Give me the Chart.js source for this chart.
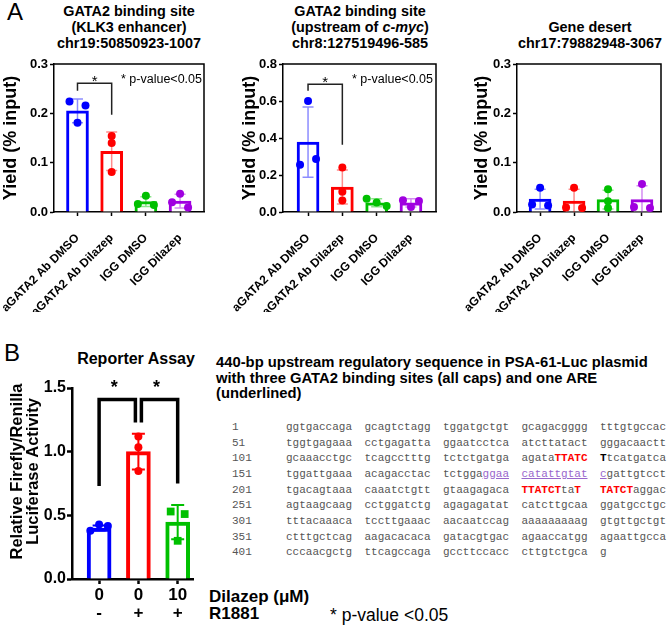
<!DOCTYPE html>
<html><head><meta charset="utf-8">
<script src="https://cdn.jsdelivr.net/npm/chart.js@4.4.1/dist/chart.umd.min.js"></script>
<style>
html,body{margin:0;padding:0;background:#fff}
body{width:667px;height:626px;position:relative;overflow:hidden;font-family:"Liberation Sans",Arial,sans-serif;color:#000}
.t{position:absolute;white-space:nowrap}
.title{font-weight:bold;font-size:14.4px;line-height:16px;text-align:center;width:220px}
canvas{position:absolute}
.seq{position:absolute;font-family:"Liberation Mono","Courier New",monospace;font-size:11px;line-height:14px;color:#555;white-space:pre}
.r{color:#f00;font-weight:bold}
.k{color:#000;font-weight:bold}
.u{color:#9966cc;text-decoration:underline}
</style></head><body>
<div class="t" style="left:7px;top:0;font-size:24px;line-height:24px">A</div>
<div class="t title" style="left:19px;top:3px">GATA2 binding site<br>(KLK3 enhancer)<br>chr19:50850923-1007</div>
<div class="t title" style="left:250px;top:3px">GATA2 binding site<br>(upstream of <i>c-myc</i>)<br>chr8:127519496-585</div>
<div class="t title" style="left:480px;top:19px">Gene desert<br>chr17:79882948-3067</div>
<canvas id="cKlk3" width="208" height="256" style="left:0;top:56px"></canvas>
<canvas id="cMyc" width="221" height="256" style="left:219px;top:56px"></canvas>
<canvas id="cDesert" width="214" height="256" style="left:451px;top:56px"></canvas>
<div class="t" style="left:4px;top:341px;font-size:24px;line-height:24px">B</div>
<div class="t" style="left:36px;top:349px;width:200px;text-align:center;font-weight:bold;font-size:16px;line-height:20px">Reporter Assay</div>
<canvas id="cReporter" width="200" height="255" style="left:0;top:370px"></canvas>
<div class="t" style="left:209px;top:587px;font-weight:bold;font-size:17px;line-height:20px">Dilazep (μM)</div>
<div class="t" style="left:209px;top:604px;font-weight:bold;font-size:17px;line-height:20px">R1881</div>
<div class="t" style="left:330px;top:605px;font-size:17.5px;line-height:20px">* p-value &lt;0.05</div>
<div class="t" style="left:216px;top:355px;font-weight:bold;font-size:14.8px;line-height:15.5px">440-bp upstream regulatory sequence in PSA-61-Luc plasmid<br>with three GATA2 binding sites (all caps) and one ARE<br>(underlined)</div>
<div id="seqBox"></div>
<script>
// ---------- DATA ----------
const chipCategories = ['aGATA2 Ab DMSO', 'aGATA2 Ab Dilazep', 'IGG DMSO', 'IGG Dilazep'];
const chipColors = ['#0000FF', '#FF0000', '#00C000', '#A000E0'];

const klk3YTicks = [0.0, 0.1, 0.2, 0.3];
const klk3Means = [0.205, 0.123, 0.021, 0.022];
const klk3SD = [0.024, 0.039, 0.010, 0.014];
const klk3Points = [[0.224, 0.216, 0.181], [0.154, 0.140, 0.081], [0.033, 0.016, 0.014], [0.037, 0.020, 0.009]];
const klk3SigPair = [0, 1];
const klk3SigLevels = [0.261, 0.246, 0.197];

const mycYTicks = [0.0, 0.2, 0.4, 0.6, 0.8];
const mycMeans = [0.378, 0.135, 0.050, 0.049];
const mycSD = [0.190, 0.092, 0.021, 0.022];
const mycPoints = [[0.600, 0.256, 0.286], [0.240, 0.110, 0.062], [0.072, 0.052, 0.033], [0.064, 0.060, 0.027]];
const mycSigPair = [0, 1];
const mycSigLevels = [0.691, 0.655, 0.364];

const desertYTicks = [0.0, 0.1, 0.2, 0.3];
const desertMeans = [0.026, 0.022, 0.025, 0.025];
const desertSD = [0.020, 0.024, 0.019, 0.028];
const desertPoints = [[0.049, 0.015, 0.013], [0.049, 0.009, 0.008], [0.046, 0.022, 0.008], [0.057, 0.010, 0.008]];

const reporterDilazep = ['0', '0', '10'];
const reporterR1881 = ['-', '+', '+'];
const reporterColors = ['#0000FF', '#FF0000', '#00C000'];
const reporterMarkers = ['circle', 'circle', 'rect'];
const reporterYTicks = [0.0, 0.5, 1.0, 1.5];
const reporterMeans = [0.400, 1.000, 0.447];
const reporterSD = [0.020, 0.140, 0.134];
const reporterPoints = [[0.378, 0.428, 0.416], [1.120, 1.035, 0.848], [0.530, 0.510, 0.300]];
const reporterSigPairs = [[0, 1], [1, 2]];
const reporterSigTops = [1.41, 1.41];
const reporterSigDrops = [[0.73, 1.23], [1.23, 0.75]];
const reporterYTitle = ['Relative Firefly/Renilla', 'Luciferase Activity'];

const seqStarts = ['1', '51', '101', '151', '201', '251', '301', '351', '401'];
const seqRows = [
  ['ggtgaccaga', 'gcagtctagg', 'tggatgctgt', 'gcagacgggg', 'tttgtgccac'],
  ['tggtgagaaa', 'cctgagatta', 'ggaatcctca', 'atcttatact', 'gggacaactt'],
  ['gcaaacctgc', 'tcagcctttg', 'tctctgatga', 'agata<span class="r">TTATC</span>', '<span class="k">T</span>tcatgatca'],
  ['tggattgaaa', 'acagacctac', 'tctgga<span class="u">ggaa</span>', '<span class="u">catattgtat</span>', '<span class="u">c</span>gattgtcct'],
  ['tgacagtaaa', 'caaatctgtt', 'gtaagagaca', '<span class="r">TTATCT</span>ta<span class="r">T</span>', '<span class="r">TATCT</span>aggac'],
  ['agtaagcaag', 'cctggatctg', 'agagagatat', 'catcttgcaa', 'ggatgcctgc'],
  ['tttacaaaca', 'tccttgaaac', 'aacaatccag', 'aaaaaaaaag', 'gtgttgctgt'],
  ['ctttgctcag', 'aagacacaca', 'gatacgtgac', 'agaaccatgg', 'agaattgcca'],
  ['cccaacgctg', 'ttcagccaga', 'gccttccacc', 'cttgtctgca', 'g']
];

// ---------- SEQUENCE TEXT ----------
(function () {
  const box = document.getElementById('seqBox');
  let html = '';
  seqRows.forEach((row, r) => {
    const top = 420 + r * 15.65;
    html += `<div class="seq" style="left:232px;top:${top}px">${seqStarts[r]}</div>`;
    row.forEach((col, c) => {
      html += `<div class="seq" style="left:${286 + c * 78.5}px;top:${top}px">${col}</div>`;
    });
  });
  box.innerHTML = html;
})();

// ---------- CHARTS ----------
const FONT = '"Liberation Sans", Arial, sans-serif';
Chart.defaults.font.family = FONT;
Chart.defaults.color = '#000';

function rgba(hex, a) {
  const n = parseInt(hex.slice(1), 16);
  return `rgba(${(n >> 16) & 255},${(n >> 8) & 255},${n & 255},${a})`;
}

function swarmPlugin(spread, thresh) {
  return {
    id: 'swarm',
    afterDatasetsUpdate(chart) {
      const meta = chart.getDatasetMeta(0);
      const data = chart.data.datasets[0].data;
      const groups = new Map();
      meta.data.forEach((el, j) => {
        const k = data[j].x;
        if (!groups.has(k)) groups.set(k, []);
        groups.get(k).push({ el, j });
      });
      groups.forEach(list => {
        const sorted = list.slice().sort((a, b) => a.el.y - b.el.y);
        const clusters = [];
        let cur = [sorted[0]];
        for (let i = 1; i < sorted.length; i++) {
          if (sorted[i].el.y - sorted[i - 1].el.y < thresh) cur.push(sorted[i]);
          else { clusters.push(cur); cur = [sorted[i]]; }
        }
        clusters.push(cur);
        clusters.forEach(c => {
          c.sort((a, b) => a.j - b.j);
          const n = c.length;
          const step = n === 2 ? spread * 2 : spread * 1.25;
          c.forEach((p, i) => { p.el.x += (i - (n - 1) / 2) * step; });
        });
      });
    }
  };
}

function errorBarPlugin(means, sds, colors, lw, capHalf) {
  return {
    id: 'errbars',
    afterDatasetDraw(chart, args) {
      if (args.index !== 1) return;
      const { ctx, chartArea: a, scales: { x, y } } = chart;
      ctx.save();
      ctx.beginPath();
      ctx.rect(a.left, a.top - 10, a.right - a.left, a.bottom - a.top + 10);
      ctx.clip();
      ctx.lineWidth = lw;
      means.forEach((m, i) => {
        const px = x.getPixelForValue(i);
        const yt = y.getPixelForValue(m + sds[i]);
        const yb = y.getPixelForValue(m - sds[i]);
        ctx.strokeStyle = colors[i];
        ctx.beginPath();
        ctx.moveTo(px, yt); ctx.lineTo(px, yb);
        ctx.moveTo(px - capHalf, yt); ctx.lineTo(px + capHalf, yt);
        ctx.moveTo(px - capHalf, yb); ctx.lineTo(px + capHalf, yb);
        ctx.stroke();
      });
      ctx.restore();
    }
  };
}

function bracketPlugin(pairs, tops, drops, lw, color, starFont, starLift, inset) {
  return {
    id: 'brackets',
    afterDraw(chart) {
      const { ctx, scales: { x, y } } = chart;
      const counts = {};
      pairs.forEach(p => p.forEach(c => { counts[c] = (counts[c] || 0) + 1; }));
      ctx.save();
      ctx.strokeStyle = color;
      ctx.fillStyle = '#000';
      ctx.lineWidth = lw;
      ctx.lineJoin = 'miter';
      pairs.forEach((p, k) => {
        const x0 = x.getPixelForValue(p[0]) + (counts[p[0]] > 1 ? inset : 0);
        const x1 = x.getPixelForValue(p[1]) - (counts[p[1]] > 1 ? inset : 0);
        const yt = y.getPixelForValue(tops[k]);
        ctx.beginPath();
        ctx.moveTo(x0, y.getPixelForValue(drops[k][0]));
        ctx.lineTo(x0, yt);
        ctx.lineTo(x1, yt);
        ctx.lineTo(x1, y.getPixelForValue(drops[k][1]));
        ctx.stroke();
        ctx.font = starFont;
        ctx.textAlign = 'center';
        ctx.textBaseline = 'alphabetic';
        ctx.fillText('*', (x0 + x1) / 2 - inset, yt + starLift);
      });
      ctx.restore();
    }
  };
}

const boxPlugin = {
  id: 'box',
  afterDraw(chart) {
    const { ctx, chartArea: a } = chart;
    ctx.save();
    ctx.strokeStyle = '#000';
    ctx.lineWidth = 1.5;
    ctx.beginPath();
    ctx.moveTo(a.left, a.top);
    ctx.lineTo(a.right, a.top);
    ctx.lineTo(a.right, a.bottom);
    ctx.stroke();
    ctx.restore();
  }
};

function pValueText(left) {
  return {
    id: 'ptext',
    afterDraw(chart) {
      const { ctx, chartArea: a } = chart;
      ctx.save();
      ctx.font = '12.5px ' + FONT;
      ctx.fillStyle = '#000';
      ctx.textBaseline = 'middle';
      ctx.fillText('* p-value<0.05', a.left + left, a.top + 16);
      ctx.restore();
    }
  };
}

// Two-line rotated axis title for panel B, placed relative to the plot area
function sideTitlePlugin(lines, font, firstX, lineStep, centerShift) {
  return {
    id: 'sidetitle',
    afterDraw(chart) {
      const { ctx, chartArea: a } = chart;
      ctx.save();
      ctx.font = font;
      ctx.fillStyle = '#000';
      ctx.textAlign = 'center';
      ctx.textBaseline = 'middle';
      const cy = (a.top + a.bottom) / 2 + centerShift;
      lines.forEach((ln, i) => {
        ctx.save();
        ctx.translate(firstX + i * lineStep, cy);
        ctx.rotate(-Math.PI / 2);
        ctx.fillText(ln, 0, 0);
        ctx.restore();
      });
      ctx.restore();
    }
  };
}

function buildChart(id, c) {
  const barData = c.means.map((m, i) => ({ x: i, y: m }));
  const ptData = [];
  c.points.forEach((arr, i) => arr.forEach(v => ptData.push({ x: i, y: v })));
  const marker = ctx => (ctx.raw && c.markers) ? c.markers[ctx.raw.x] : 'circle';
  const pcol = ctx => ctx.raw ? c.colors[ctx.raw.x] : c.colors[0];
  return new Chart(document.getElementById(id), {
    type: 'bar',
    data: {
      datasets: [
        {
          type: 'scatter', data: ptData, order: 0,
          pointStyle: marker,
          pointRadius: ctx => marker(ctx) === 'rect' ? c.rectRadius : c.pointRadius,
          pointBackgroundColor: pcol, pointBorderColor: pcol, pointBorderWidth: 0,
          backgroundColor: pcol, borderColor: pcol
        },
        {
          type: 'bar', data: barData, order: 1,
          backgroundColor: '#FFFFFF', borderColor: c.colors,
          borderWidth: c.barBorder, barThickness: c.barThickness, borderSkipped: 'start'
        }
      ]
    },
    options: {
      responsive: false, animation: false, devicePixelRatio: 1,
      layout: { padding: { top: c.padTop, right: c.padRight, left: c.padLeft || 0, bottom: 0 } },
      plugins: { legend: { display: false }, tooltip: { enabled: false } },
      scales: {
        x: {
          type: 'linear', min: c.xMin, max: c.xMax, offset: false,
          afterFit: s => { s.height = c.xHeight; s.paddingLeft = 0; s.paddingRight = 0; },
          afterBuildTicks: s => { s.ticks = c.xLabels.map((_, i) => ({ value: i })); },
          ticks: {
            autoSkip: false, maxRotation: c.rot, minRotation: c.rot, padding: c.xPad,
            labelOffset: c.xLabelOffset || 0,
            font: c.xFont, color: '#000',
            callback: v => c.xLabels[v]
          },
          grid: { display: true, drawOnChartArea: false, drawTicks: true, tickLength: c.tickLen, tickWidth: c.axisW, tickColor: '#000', offset: false },
          border: { display: true, color: '#000', width: c.axisW }
        },
        y: {
          type: 'linear', min: 0, max: c.yTicks[c.yTicks.length - 1],
          afterFit: s => { s.width = c.yWidth; s.paddingTop = 0; s.paddingBottom = 0; },
          afterBuildTicks: s => { s.ticks = c.yTicks.map(v => ({ value: v })); },
          ticks: { padding: c.yPad, font: c.yFont, color: '#000', callback: v => Number(v).toFixed(1) },
          grid: { display: true, drawOnChartArea: false, drawTicks: true, tickLength: c.tickLen, tickWidth: c.axisW, tickColor: '#000' },
          border: { display: true, color: '#000', width: c.axisW },
          title: { display: !!c.yTitle, text: c.yTitle || '', font: c.yTitleFont, color: '#000', padding: c.yTitlePad }
        }
      }
    },
    plugins: c.plugins
  });
}

const chipStyle = {
  colors: chipColors, xLabels: chipCategories, rot: 45, xPad: 15, xLabelOffset: 0, xHeight: 100,
  xFont: { size: 12, weight: 'bold' }, yFont: { size: 13, weight: 'bold' },
  yTitle: 'Yield (% input)', yTitleFont: { size: 18, weight: 'bold' }, yTitlePad: { top: 0, bottom: 2 },
  tickLen: 4, yPad: 2, axisW: 1.5, barBorder: 3, barThickness: 22,
  pointRadius: 4, rectRadius: 5, padTop: 8, padRight: 4
};
const errA = chipColors.map(col => rgba(col, 0.45));

buildChart('cKlk3', Object.assign({}, chipStyle, {
  means: klk3Means, points: klk3Points, yTicks: klk3YTicks, yWidth: 54, xMin: -0.687, xMax: 3.70,
  plugins: [swarmPlugin(8, 6), errorBarPlugin(klk3Means, klk3SD, errA, 1.5, 5.5), boxPlugin,
    bracketPlugin([klk3SigPair], [klk3SigLevels[0]], [[klk3SigLevels[1], klk3SigLevels[2]]], 1.5, '#222', '15px ' + FONT, 3, 0),
    pValueText(67)]
}));
buildChart('cMyc', Object.assign({}, chipStyle, {
  means: mycMeans, points: mycPoints, yTicks: mycYTicks, padLeft: 20, yWidth: 44, xMin: -0.73, xMax: 3.73,
  plugins: [swarmPlugin(8, 6), errorBarPlugin(mycMeans, mycSD, errA, 1.5, 5.5), boxPlugin,
    bracketPlugin([mycSigPair], [mycSigLevels[0]], [[mycSigLevels[1], mycSigLevels[2]]], 1.5, '#222', '15px ' + FONT, 3, 0),
    pValueText(69)]
}));
buildChart('cDesert', Object.assign({}, chipStyle, {
  means: desertMeans, points: desertPoints, yTicks: desertYTicks, padLeft: 20, yWidth: 46, xMin: -0.68, xMax: 3.56,
  plugins: [swarmPlugin(8, 6), errorBarPlugin(desertMeans, desertSD, errA, 1.5, 5.5), boxPlugin]
}));

buildChart('cReporter', {
  colors: reporterColors, markers: reporterMarkers,
  xLabels: reporterDilazep.map((d, i) => [d, reporterR1881[i]]),
  rot: 0, xPad: 3, xHeight: 46,
  xFont: { size: 17, weight: 'bold', lineHeight: 1.03 }, yFont: { size: 16, weight: 'bold' },
  yTitle: null,
  tickLen: 5, yPad: 1, axisW: 2.5, barBorder: 4, barThickness: 24,
  pointRadius: 4, rectRadius: 5.5, padTop: 18, padRight: 7,
  means: reporterMeans, points: reporterPoints, yTicks: reporterYTicks, yWidth: 72, xMin: -0.69, xMax: 2.39,
  plugins: [swarmPlugin(7, 6), errorBarPlugin(reporterMeans, reporterSD, reporterColors, 2, 6.5),
    bracketPlugin(reporterSigPairs, reporterSigTops, reporterSigDrops, 3.5, '#000', 'bold 18px ' + FONT, -6, 3),
    sideTitlePlugin(reporterYTitle, 'bold 16.5px ' + FONT, 17, 16, -12)]
});
</script>
</body></html>
